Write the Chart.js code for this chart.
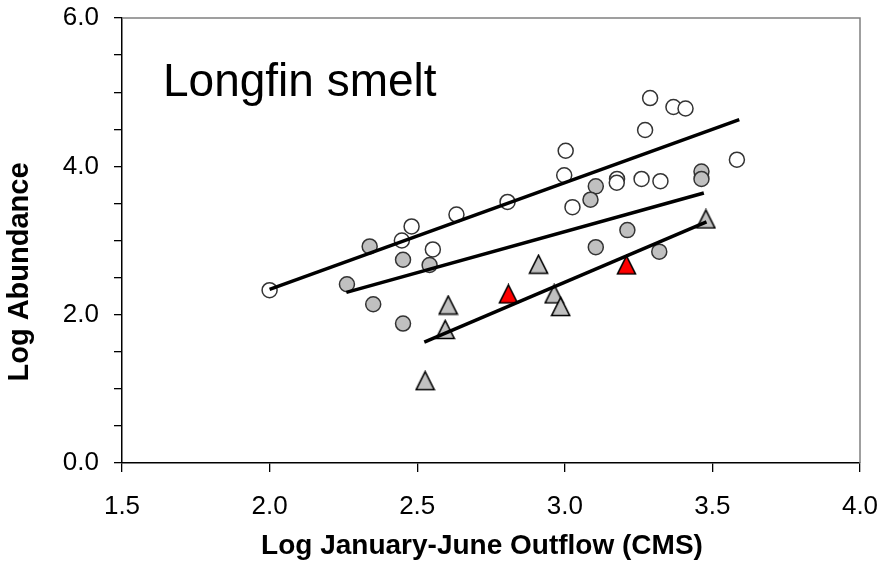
<!DOCTYPE html>
<html>
<head>
<meta charset="utf-8">
<title>Longfin smelt</title>
<script src="https://cdn.jsdelivr.net/npm/chart.js@4.4.1/dist/chart.umd.min.js"></script>
<style>
  html, body { margin: 0; padding: 0; background: #fff; }
  #wrap { width: 881px; height: 563px; }
</style>
</head>
<body>
<div id="wrap"><canvas id="chart" width="881" height="563"></canvas></div>
<script>
// open circles
const openX = [2.00, 2.448, 2.481, 2.553, 2.633, 2.806, 3.003, 2.998, 3.026, 3.177, 3.176, 3.260, 3.324, 3.272, 3.289, 3.368, 3.409, 3.583];
const openY = [2.33, 3.00, 3.19, 2.88, 3.35, 3.52, 4.21, 3.88, 3.45, 3.83, 3.78, 3.83, 3.80, 4.49, 4.92, 4.80, 4.78, 4.09];

// grey circles
const greyX = [2.339, 2.262, 2.351, 2.452, 2.452, 2.542, 3.105, 3.087, 3.212, 3.105, 3.320, 3.463, 3.463];
const greyY = [2.92, 2.41, 2.14, 2.74, 1.88, 2.67, 3.73, 3.55, 3.14, 2.91, 2.85, 3.93, 3.83];

// grey triangles
const triX = [2.605, 2.595, 2.527, 2.911, 2.964, 2.986, 3.478];
const triY = [2.13, 1.80, 1.11, 2.68, 2.28, 2.11, 3.29];

// red triangles
const redX = [2.809, 3.209];
const redY = [2.28, 2.67];

// fitted lines (end points)
const openFitX = [2.00, 3.591];
const openFitY = [2.34, 4.63];
const greyFitX = [2.26, 3.471];
const greyFitY = [2.30, 3.64];
const triFitX = [2.524, 3.48];
const triFitY = [1.63, 3.25];

const xTicks = [1.5, 2.0, 2.5, 3.0, 3.5, 4.0];
const yLabelled = [0, 2, 4, 6];

const FONT = "'Liberation Sans', Arial, sans-serif";

function pts(xs, ys) {
    return xs.map((x, i) => ({ x: x, y: ys[i] }));
}

// Excel-style triangle marker (square bounding box, centred)
function triangleMarker(fill) {
    const size = 21;
    const c = document.createElement('canvas');
    c.width = size;
    c.height = size;
    const g = c.getContext('2d');
    g.beginPath();
    g.moveTo(size / 2, 1.5);
    g.lineTo(size - 1.5, size - 1.5);
    g.lineTo(1.5, size - 1.5);
    g.closePath();
    g.fillStyle = fill;
    g.fill();
    g.lineWidth = 1.6;
    g.strokeStyle = '#000';
    g.lineJoin = 'miter';
    g.stroke();
    return c;
}

const greyTri = triangleMarker('#c0c0c0');
const redTri = triangleMarker('#ff0000');

// frame + free text
const decorations = {
    id: 'decorations',
    afterDraw(chart) {
        const { ctx, chartArea: a } = chart;
        ctx.save();
        // top and right border
        ctx.strokeStyle = '#808080';
        ctx.lineWidth = 1.5;
        ctx.beginPath();
        ctx.moveTo(a.left, a.top);
        ctx.lineTo(a.right, a.top);
        ctx.lineTo(a.right, a.bottom);
        ctx.stroke();

        ctx.fillStyle = '#000';
        // species label
        ctx.font = '46px ' + FONT;
        ctx.textAlign = 'left';
        ctx.textBaseline = 'alphabetic';
        ctx.fillText('Longfin smelt', a.left + 41, a.top + 78);

        // x title
        ctx.font = 'bold 28px ' + FONT;
        ctx.textAlign = 'center';
        ctx.fillText('Log January-June Outflow (CMS)', 482, 554);

        // y title
        ctx.translate(20, 272);
        ctx.rotate(-Math.PI / 2);
        ctx.font = 'bold 29px ' + FONT;
        ctx.textBaseline = 'middle';
        ctx.fillText('Log Abundance', 0, 0);
        ctx.restore();
    }
};

function noPad(scale) {
    scale.paddingLeft = 0;
    scale.paddingRight = 0;
    scale.paddingTop = 0;
    scale.paddingBottom = 0;
}

new Chart(document.getElementById('chart'), {
    type: 'scatter',
    data: {
        datasets: [
            {
                label: 'open fit',
                data: pts(openFitX, openFitY),
                showLine: true,
                borderColor: '#000',
                borderWidth: 3.5,
                pointRadius: 0,
                order: 0
            },
            {
                label: 'grey fit',
                data: pts(greyFitX, greyFitY),
                showLine: true,
                borderColor: '#000',
                borderWidth: 3.5,
                pointRadius: 0,
                order: 0
            },
            {
                label: 'triangle fit',
                data: pts(triFitX, triFitY),
                showLine: true,
                borderColor: '#000',
                borderWidth: 3.5,
                pointRadius: 0,
                order: 0
            },
            {
                label: 'open',
                data: pts(openX, openY),
                pointStyle: 'circle',
                pointRadius: 7.5,
                pointBackgroundColor: '#fff',
                pointBorderColor: '#333',
                pointBorderWidth: 1.5,
                order: 2
            },
            {
                label: 'grey',
                data: pts(greyX, greyY),
                pointStyle: 'circle',
                pointRadius: 7.5,
                pointBackgroundColor: '#c0c0c0',
                pointBorderColor: '#333',
                pointBorderWidth: 1.5,
                order: 2
            },
            {
                label: 'triangles',
                data: pts(triX, triY),
                pointStyle: greyTri,
                order: 1
            },
            {
                label: 'red triangles',
                data: pts(redX, redY),
                pointStyle: redTri,
                order: 1
            }
        ]
    },
    options: {
        responsive: false,
        animation: false,
        events: [],
        layout: { padding: { left: 0, top: 18, right: 21, bottom: 0 } },
        plugins: {
            legend: { display: false },
            tooltip: { enabled: false }
        },
        scales: {
            x: {
                type: 'linear',
                min: 1.5,
                max: 4.0,
                afterBuildTicks(scale) {
                    scale.ticks = xTicks.map(v => ({ value: v }));
                },
                afterFit(scale) { scale.height = 100; noPad(scale); },
                ticks: {
                    color: '#000',
                    font: { family: FONT, size: 26 },
                    padding: 19,
                    maxRotation: 0,
                    autoSkip: false,
                    callback: v => v.toFixed(1)
                },
                grid: {
                    drawOnChartArea: false,
                    drawTicks: true,
                    tickLength: 9,
                    color: '#000',
                    lineWidth: 1.3
                },
                border: { display: true, color: '#000', width: 1.5 }
            },
            y: {
                type: 'linear',
                min: 0,
                max: 6,
                afterFit(scale) { scale.width = 122; noPad(scale); },
                ticks: {
                    stepSize: 0.5,
                    color: '#000',
                    font: { family: FONT, size: 26 },
                    padding: 15,
                    autoSkip: false,
                    callback: v => yLabelled.includes(v) ? v.toFixed(1) : ''
                },
                grid: {
                    drawOnChartArea: false,
                    drawTicks: true,
                    tickLength: 8,
                    color: '#000',
                    lineWidth: 1.3
                },
                border: { display: true, color: '#000', width: 1.5 }
            }
        }
    },
    plugins: [decorations]
});
</script>
</body>
</html>
